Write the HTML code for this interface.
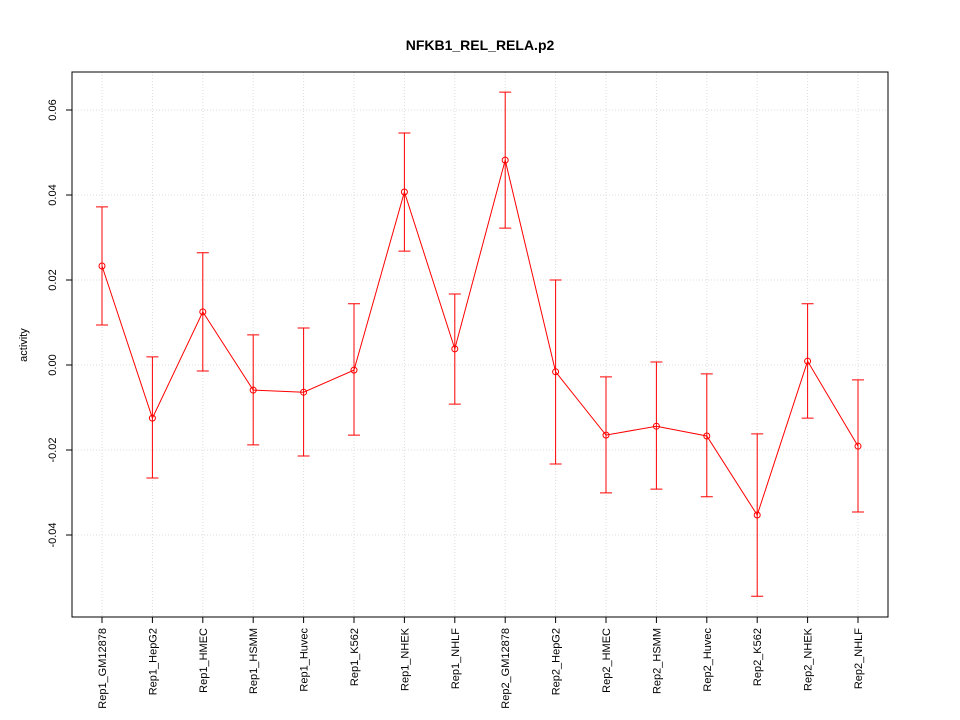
<!DOCTYPE html>
<html><head><meta charset="utf-8"><style>body{margin:0;background:#fff}svg{display:block}text{font-family:"Liberation Sans",sans-serif}</style></head>
<body>
<svg id="chart" width="960" height="720" xmlns="http://www.w3.org/2000/svg">
<rect width="960" height="720" fill="#fff"/>
<text x="480" y="50" text-anchor="middle" font-size="14" font-weight="bold">NFKB1_REL_RELA.p2</text>
<text transform="translate(27,345) rotate(-90)" text-anchor="middle" font-size="11">activity</text>
<g id="grid"></g><g id="axes"></g><g id="marks"></g>
<rect x="72" y="72" width="816" height="545" fill="none" stroke="#000"/>
</svg>
<script>
const categories=["Rep1_GM12878","Rep1_HepG2","Rep1_HMEC","Rep1_HSMM","Rep1_Huvec","Rep1_K562","Rep1_NHEK","Rep1_NHLF","Rep2_GM12878","Rep2_HepG2","Rep2_HMEC","Rep2_HSMM","Rep2_Huvec","Rep2_K562","Rep2_NHEK","Rep2_NHLF"];
const values=[0.0233,-0.0125,0.0125,-0.0059,-0.0064,-0.0012,0.0407,0.0038,0.0482,-0.0016,-0.0165,-0.0144,-0.0167,-0.0353,0.0009,-0.0191];
const upper=[0.0372,0.0019,0.0264,0.0071,0.0087,0.0144,0.0546,0.0167,0.0642,0.0200,-0.0028,0.0007,-0.0021,-0.0162,0.0144,-0.0035];
const lower=[0.0094,-0.0266,-0.0014,-0.0188,-0.0214,-0.0165,0.0268,-0.0092,0.0322,-0.0233,-0.0301,-0.0292,-0.0310,-0.0544,-0.0125,-0.0346];
const yTicks=[-0.04,-0.02,0,0.02,0.04,0.06];
const yTickLabels=["-0.04","-0.02","0.00","0.02","0.04","0.06"];
const NS="http://www.w3.org/2000/svg";
const x=i=>102+i*(858-102)/(categories.length-1);
const y=v=>365-v*4250;
function mk(tag,attrs,parent,txt){const e=document.createElementNS(NS,tag);for(const k in attrs)e.setAttribute(k,attrs[k]);if(txt!==undefined)e.textContent=txt;document.getElementById(parent).appendChild(e);return e;}
yTicks.forEach((t,i)=>{
 const g=mk('line',{x1:72,x2:888,y1:y(t),y2:y(t),stroke:"#ddd","stroke-dasharray":"1,2"},'grid');
 
 
 const tk=mk('line',{x1:66,x2:72,y1:y(t),y2:y(t),stroke:"#000"},'axes');
 
 
 const lb=mk('text',{transform:`translate(56,${y(t)}) rotate(-90)`,"text-anchor":"middle","font-size":"11"},'axes',yTickLabels[i]);
 
 
});
categories.forEach((c,i)=>{
 const g=mk('line',{x1:x(i),x2:x(i),y1:72,y2:617,stroke:"#ddd","stroke-dasharray":"1,2"},'grid');
 
 
 const tk=mk('line',{x1:x(i),x2:x(i),y1:617,y2:623,stroke:"#000"},'axes');
 
 
 const lb=mk('text',{transform:`translate(${x(i)+4},628) rotate(-90)`,"text-anchor":"end","font-size":"11"},'axes',c);
 
 
});
const pts=values.map((v,i)=>x(i)+","+y(v)).join(" ");
const line=mk('polyline',{points:pts,fill:"none",stroke:"#f00"},'marks');


values.forEach((v,i)=>{
 const e=mk('path',{d:`M${x(i)},${y(upper[i])}V${y(lower[i])}M${x(i)-6},${y(upper[i])}H${x(i)+6}M${x(i)-6},${y(lower[i])}H${x(i)+6}`,stroke:"#f00",fill:"none"},'marks');
 
 
 const p=mk('circle',{cx:x(i),cy:y(v),r:3,fill:"none",stroke:"#f00"},'marks');
 
 
});
</script>
</body></html>
